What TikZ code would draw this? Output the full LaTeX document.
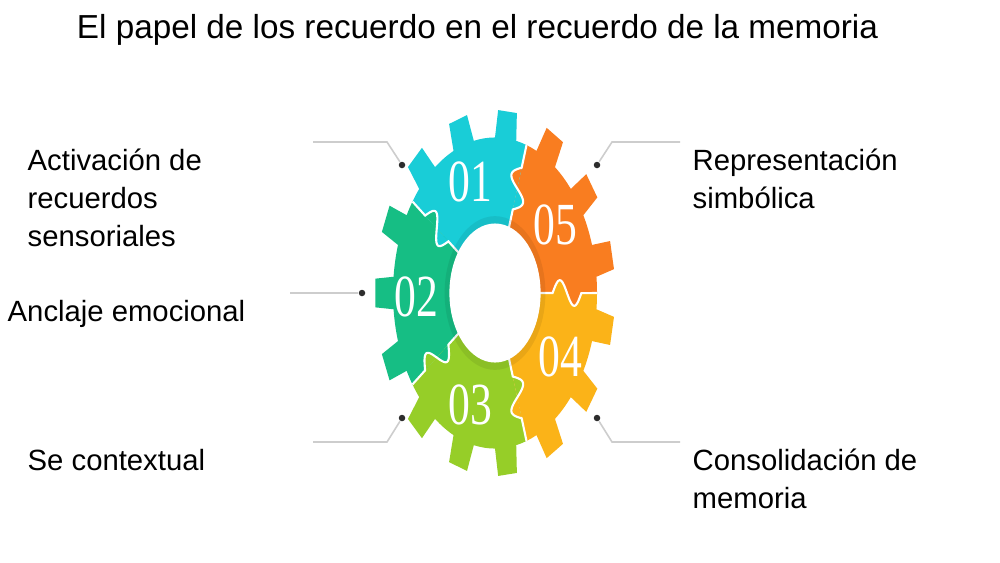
\documentclass[tikz,border=0pt]{standalone}
\usepackage{fontspec}
\usepackage{graphicx}
\setmainfont{Liberation Sans}
\newfontfamily\numfont{Liberation Serif}
\definecolor{cyanA}{RGB}{25,205,215}
\definecolor{orangeA}{RGB}{249,125,32}
\definecolor{greenA}{RGB}{22,190,132}
\definecolor{limeA}{RGB}{150,206,40}
\definecolor{amberA}{RGB}{251,179,24}
\definecolor{lineA}{RGB}{205,205,205}
\definecolor{dotA}{RGB}{45,45,45}
\begin{document}
\begin{tikzpicture}[
  lbl/.style={font=\fontsize{8.33}{10.82}\selectfont, align=left, anchor=west, inner sep=0pt},
  ttl/.style={font=\fontsize{9.47}{11}\selectfont, inner sep=0pt},
  num/.style={font=\numfont\fontsize{17}{17}\selectfont, text=white, inner sep=0pt},
  dotn/.style={circle, fill=dotA, inner sep=0pt, minimum size=0.065cm},
  conn/.style={draw=lineA, line width=0.45pt},
  joint/.style={white, line width=0.6pt}
]
\useasboundingbox (0,0) rectangle (10,5.62);
\fill[white] (0,0) rectangle (10,5.62);

% title
\node[ttl] (title) at (4.775,5.32) {El papel de los recuerdo en el recuerdo de la memoria};

% gear
\begin{scope}[shift={(4.95,2.69)}, xscale=1.2, yscale=1.83]
  \begin{scope}
    \clip (6:0.85) \foreach \a in {12,36,...,348} { -- ({\a-6}:0.85) -- ({\a-4.5}:1) -- ({\a+4.5}:1) -- ({\a+6}:0.85) arc[start angle={\a+6}, end angle={\a+18}, radius=0.85] } -- cycle;
    \foreach \s/\c in {0/orangeA, 72/cyanA, 144/greenA, 216/limeA, 288/amberA}
      \fill[\c] (0,0) -- (\s:1.6) -- ({\s+24}:1.6) -- ({\s+48}:1.6) -- ({\s+72}:1.6) -- cycle;
    \foreach \t/\sg/\cf/\cs in {0/1/amberA/orangeA, 72/-1/cyanA/orangeA, 144/1/cyanA/greenA, 216/1/greenA/limeA, 288/1/limeA/amberA} {
      \begin{scope}[rotate=\t, yscale=\sg]
        \fill[\cf] (0.48,0) -- plot[domain=0.48:0.60, samples=20, smooth] (\x,{0.07*sin(1500*(\x-0.48))}) -- cycle;
        \fill[\cs] (0.60,0) -- plot[domain=0.60:0.72, samples=20, smooth] (\x,{0.07*sin(1500*(\x-0.48))}) -- cycle;
        \draw[joint] (0.36,0) -- (0.48,0) -- plot[domain=0.48:0.72, samples=40, smooth] (\x,{0.07*sin(1500*(\x-0.48))}) -- (1.05,0);
      \end{scope}
    }
    \fill[black, opacity=0.07] (0,0) circle (0.42);
    \fill[white] (0,0) circle (0.38);
  \end{scope}
\end{scope}

% numbers
\node[num] (n1) at (4.70,3.80) {\scalebox{0.73}[1]{01}};
\node[num] (n5) at (5.55,3.37) {\scalebox{0.73}[1]{05}};
\node[num] (n2) at (4.16,2.65) {\scalebox{0.73}[1]{02}};
\node[num] (n3) at (4.70,1.57) {\scalebox{0.73}[1]{03}};
\node[num] (n4) at (5.60,2.05) {\scalebox{0.73}[1]{04}};

% connectors
\node[dotn] (d1) at (4.02,3.97) {};
\coordinate (k1) at (3.87,4.20);
\coordinate (e1) at (3.13,4.20);
\draw[conn] (e1) -- (k1) -- (d1);

\node[dotn] (d2) at (3.62,2.69) {};
\coordinate (e2) at (2.90,2.69);
\draw[conn] (e2) -- (d2);

\node[dotn] (d3) at (4.02,1.44) {};
\coordinate (k3) at (3.87,1.20);
\coordinate (e3) at (3.13,1.20);
\draw[conn] (e3) -- (k3) -- (d3);

\node[dotn] (d4) at (5.97,3.97) {};
\coordinate (k4) at (6.12,4.20);
\coordinate (e4) at (6.80,4.20);
\draw[conn] (e4) -- (k4) -- (d4);

\node[dotn] (d5) at (5.97,1.44) {};
\coordinate (k5) at (6.12,1.20);
\coordinate (e5) at (6.80,1.20);
\draw[conn] (e5) -- (k5) -- (d5);

% labels
\node[lbl] (l1) at (0.27,3.64) {Activación de\\recuerdos\\sensoriales};
\node[lbl] (l2) at (0.07,2.48) {Anclaje emocional};
\node[lbl] (l3) at (0.27,1.02) {Se contextual};
\node[lbl] (l4) at (6.92,3.83) {Representación\\simbólica};
\node[lbl] (l5) at (6.92,0.83) {Consolidación de\\memoria};
\end{tikzpicture}
\end{document}
